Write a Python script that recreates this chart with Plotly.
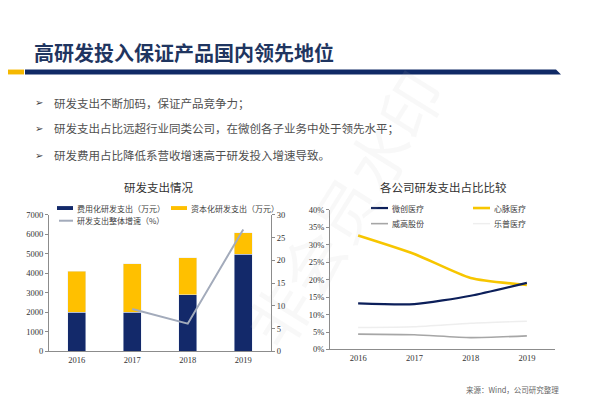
import plotly.graph_objects as go

years = ['2016', '2017', '2018', '2019']
rd_expensed = [2000, 2000, 2900, 4990]
rd_capitalized = [2100, 2500, 1900, 1100]
rd_growth = [None, 9.3, 6.1, 26.8]

peer_names = ['乐普医疗', '威高股份', '心脉医疗', '微创医疗']
peer_ratio = {
    '微创医疗': [0.132, 0.130, 0.154, 0.191],
    '心脉医疗': [0.327, 0.274, 0.205, 0.185],
    '威高股份': [0.044, 0.042, 0.034, 0.039],
    '乐普医疗': [0.063, 0.065, 0.075, 0.081],
}
peer_colors = {'微创医疗': '#0c1f5a', '心脉医疗': '#f7c600', '威高股份': '#a6a6a6', '乐普医疗': '#eeeeee'}
peer_widths = {'微创医疗': 2.2, '心脉医疗': 2.6, '威高股份': 1.6, '乐普医疗': 1.4}

bullets = ['研发支出不断加码，保证产品竞争力；',
           '研发支出占比远超行业同类公司，在微创各子业务中处于领先水平；',
           '研发费用占比降低系营收增速高于研发投入增速导致。']

W, H = 600, 403
NAVY = '#13296a'
YELLOW = '#ffc000'
CJK = 'Noto Sans CJK SC'
SERIF = 'Liberation Serif'


def px(x):
    return x / W


def py(y):
    return 1 - y / H


fig = go.Figure()

# left chart: stacked bars + growth line
fig.add_trace(go.Bar(x=years, y=rd_expensed, marker_color=NAVY, width=0.32,
                     xaxis='x', yaxis='y', showlegend=False))
fig.add_trace(go.Bar(x=years, y=rd_capitalized, marker_color=YELLOW, width=0.32,
                     xaxis='x', yaxis='y', showlegend=False))
fig.add_trace(go.Scatter(x=years, y=rd_growth, mode='lines', line=dict(color='#a3abbb', width=2),
                         xaxis='x', yaxis='y2', showlegend=False))

# right chart: peer ratios
for name in peer_names:
    fig.add_trace(go.Scatter(x=years, y=peer_ratio[name], mode='lines',
                             line=dict(color=peer_colors[name], width=peer_widths[name],
                                       shape='spline', smoothing=0.6),
                             xaxis='x3', yaxis='y3', showlegend=False))

tickfont = dict(family=SERIF, size=8.5, color='#333333')
axis_common = dict(showline=True, linecolor='#8c8c8c', linewidth=1, showgrid=False,
                   zeroline=False, tickfont=tickfont, fixedrange=True)

fig.update_layout(
    width=W, height=H,
    margin=dict(l=0, r=0, t=0, b=0),
    paper_bgcolor='white', plot_bgcolor='white',
    barmode='stack',
    xaxis=dict(domain=[px(41), px(263)], anchor='y', type='category', range=[-0.5, 3.5],
               ticks='', **axis_common),
    yaxis=dict(domain=[py(347), py(207)], anchor='x', range=[0, 7000], dtick=1000,
               ticks='outside', ticklen=3, tickcolor='#8c8c8c', **axis_common),
    yaxis2=dict(overlaying='y', side='right', anchor='x', range=[0, 30], dtick=5,
                ticks='outside', ticklen=3, tickcolor='#8c8c8c', **axis_common),
    xaxis3=dict(domain=[px(322), px(547)], anchor='y3', type='category', range=[-0.5, 3.5],
                ticks='', **axis_common),
    yaxis3=dict(domain=[py(345), py(202)], anchor='x3', range=[0, 0.40], dtick=0.05,
                tickformat='.0%', ticks='outside', ticklen=3, tickcolor='#8c8c8c', **axis_common),
)

shapes = []
annotations = []

# header bar
shapes.append(dict(type='rect', xref='paper', yref='paper', x0=px(0), x1=px(16), y0=py(63), y1=py(58),
                   fillcolor='#f5b800', line_width=0, layer='above'))
shapes.append(dict(type='path', xref='paper', yref='paper',
                   path=f'M {px(17)},{py(58)} L {px(548)},{py(58)} L {px(553)},{py(63)} L {px(17)},{py(63)} Z',
                   fillcolor='#102a66', line_width=0, layer='above'))

# faint watermark
annotations.append(dict(text='非会员水印', x=px(335), y=py(200), xref='paper', yref='paper',
                        showarrow=False, textangle=-58,
                        font=dict(family=CJK, size=62, color='rgba(190,190,190,0.10)')))

annotations.append(dict(text='高研发投入保证产品国内领先地位', x=px(24), y=py(40), xref='paper', yref='paper',
                        xanchor='left', yanchor='middle', showarrow=False,
                        font=dict(family=CJK, size=20, color='#1f3560', weight=700)))

for txt, yy in zip(bullets, [92, 118, 146]):
    annotations.append(dict(text='➢', x=px(25), y=py(yy), xref='paper', yref='paper',
                            xanchor='left', yanchor='middle', showarrow=False,
                            font=dict(family='DejaVu Sans', size=10, color='#404040')))
    annotations.append(dict(text=txt, x=px(44), y=py(yy), xref='paper', yref='paper',
                            xanchor='left', yanchor='middle', showarrow=False,
                            font=dict(family=CJK, size=11.5, color='#505050')))

# chart titles
annotations.append(dict(text='研发支出情况', x=px(150), y=py(178), xref='paper', yref='paper',
                        xanchor='center', yanchor='middle', showarrow=False,
                        font=dict(family=CJK, size=11.5, color='#333333')))
annotations.append(dict(text='各公司研发支出占比比较', x=px(435), y=py(178), xref='paper', yref='paper',
                        xanchor='center', yanchor='middle', showarrow=False,
                        font=dict(family=CJK, size=11.5, color='#333333')))

# left legend
legend_font = dict(family=CJK, size=8, color='#404040')
shapes.append(dict(type='rect', xref='paper', yref='paper', x0=px(49), x1=px(65), y0=py(202), y1=py(198),
                   fillcolor=NAVY, line_width=0))
shapes.append(dict(type='rect', xref='paper', yref='paper', x0=px(163), x1=px(179), y0=py(202), y1=py(198),
                   fillcolor=YELLOW, line_width=0))
shapes.append(dict(type='line', xref='paper', yref='paper', x0=px(51), x1=px(65), y0=py(213), y1=py(213),
                   line=dict(color='#a3abbb', width=2)))
for txt, xx, yy in [('费用化研发支出（万元）', 67, 200), ('资本化研发支出（万元）', 181, 200),
                    ('研发支出整体增速（%）', 67, 213)]:
    annotations.append(dict(text=txt, x=px(xx), y=py(yy), xref='paper', yref='paper',
                            xanchor='left', yanchor='middle', showarrow=False, font=legend_font))

# right legend
for name, xx, yy in [('微创医疗', 363, 200), ('心脉医疗', 465, 200), ('威高股份', 363, 216), ('乐普医疗', 465, 216)]:
    shapes.append(dict(type='line', xref='paper', yref='paper', x0=px(xx), x1=px(xx + 17), y0=py(yy), y1=py(yy),
                       line=dict(color=peer_colors[name], width=peer_widths[name])))
    annotations.append(dict(text=name, x=px(xx + 19), y=py(yy), xref='paper', yref='paper',
                            xanchor='left', yanchor='middle', showarrow=False, font=legend_font))

annotations.append(dict(text='来源：Wind，公司研究整理', x=px(456), y=py(386), xref='paper', yref='paper',
                        xanchor='left', yanchor='middle', showarrow=False,
                        font=dict(family=CJK, size=7.5, color='#666666')))

fig.update_layout(shapes=shapes, annotations=annotations)
fig.write_html('out.html')
